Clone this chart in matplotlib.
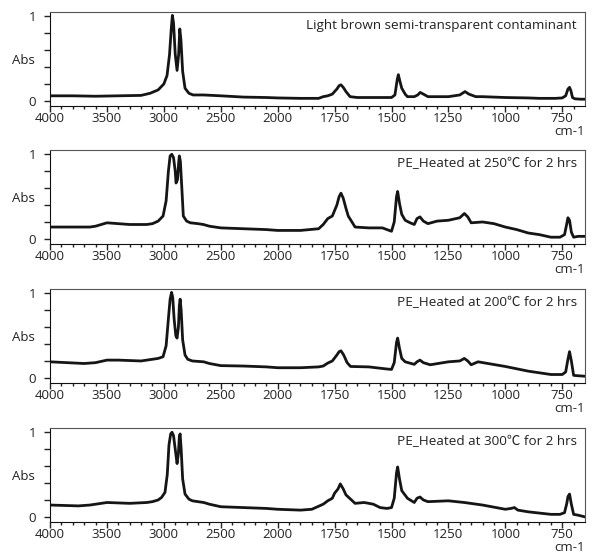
import numpy as np
import matplotlib
matplotlib.use("Agg")
import matplotlib.pyplot as plt

plt.rcParams["font.family"] = ["Open Sans", "Noto Sans CJK KR", "DejaVu Sans"]

# wavenumber (cm-1) / absorbance
wn1 = [4000, 3800, 3600, 3400, 3200, 3121, 3050, 3000, 2972, 2950, 2935, 2925, 2915,
       2900, 2884, 2870, 2860, 2850, 2835, 2814, 2780, 2743, 2650, 2500, 2300, 2100,
       2000, 1900, 1820, 1800, 1780, 1760, 1740, 1730, 1722, 1712, 1700, 1682, 1650, 1550,
       1500, 1485, 1475, 1470, 1462, 1455, 1440, 1430, 1400, 1385, 1374, 1360, 1340,
       1250, 1200, 1177, 1160, 1130, 1100, 1000, 900, 850, 780, 750, 735, 725, 718,
       712, 705, 695, 670, 650]
abs1 = [0.06, 0.06, 0.055, 0.06, 0.065, 0.09, 0.13, 0.20, 0.30, 0.55, 0.85, 1.01, 0.92,
        0.55, 0.36, 0.55, 0.85, 0.72, 0.35, 0.15, 0.09, 0.07, 0.07, 0.06, 0.045, 0.04,
        0.035, 0.03, 0.03, 0.05, 0.06, 0.08, 0.14, 0.18, 0.19, 0.16, 0.11, 0.05, 0.04, 0.04,
        0.04, 0.07, 0.25, 0.31, 0.22, 0.15, 0.08, 0.05, 0.05, 0.07, 0.10, 0.08, 0.05,
        0.05, 0.07, 0.11, 0.08, 0.05, 0.05, 0.04, 0.035, 0.03, 0.03, 0.035, 0.06, 0.14, 0.16,
        0.12, 0.04, 0.025, 0.02, 0.02]

wn2 = [4000, 3800, 3650, 3600, 3500, 3400, 3300, 3150, 3100, 3050, 3007, 2980, 2960,
       2945, 2930, 2915, 2900, 2893, 2880, 2870, 2864, 2855, 2840, 2829, 2800, 2767,
       2700, 2653, 2600, 2500, 2300, 2100, 2000, 1900, 1820, 1800, 1780, 1760, 1740,
       1730, 1722, 1712, 1700, 1690, 1660, 1600, 1540, 1500, 1488, 1478, 1473, 1465, 1455,
       1440, 1418, 1400, 1388, 1375, 1360, 1340, 1300, 1250, 1200, 1180, 1165, 1150,
       1100, 1050, 1000, 950, 900, 850, 800, 760, 740, 730, 725, 718, 710, 700, 680, 650]
abs2 = [0.14, 0.14, 0.14, 0.15, 0.19, 0.18, 0.17, 0.17, 0.18, 0.21, 0.27, 0.45, 0.80,
        0.98, 1.00, 0.96, 0.80, 0.66, 0.70, 0.90, 0.98, 0.92, 0.55, 0.27, 0.21, 0.19,
        0.18, 0.17, 0.15, 0.13, 0.12, 0.11, 0.10, 0.10, 0.12, 0.17, 0.24, 0.27, 0.40,
        0.50, 0.54, 0.48, 0.36, 0.27, 0.14, 0.13, 0.13, 0.09, 0.20, 0.50, 0.56, 0.42, 0.29,
        0.22, 0.19, 0.17, 0.24, 0.26, 0.21, 0.18, 0.21, 0.22, 0.25, 0.30, 0.26, 0.19,
        0.20, 0.18, 0.14, 0.11, 0.07, 0.05, 0.02, 0.02, 0.05, 0.18, 0.25, 0.22, 0.08,
        0.02, 0.03, 0.03]

wn3 = [4000, 3850, 3700, 3600, 3500, 3400, 3200, 3100, 3050, 3007, 2980, 2960, 2945,
       2932, 2922, 2910, 2895, 2884, 2872, 2864, 2857, 2848, 2835, 2814, 2790, 2750,
       2650, 2600, 2500, 2300, 2100, 2000, 1900, 1820, 1800, 1780, 1760, 1740, 1730, 1722,
       1710, 1695, 1680, 1600, 1520, 1500, 1488, 1478, 1473, 1465, 1455, 1440, 1420,
       1400, 1388, 1375, 1360, 1330, 1250, 1200, 1180, 1165, 1150, 1120, 1000, 900,
       800, 750, 735, 725, 718, 710, 700, 680, 650]
abs3 = [0.19, 0.18, 0.17, 0.18, 0.21, 0.21, 0.20, 0.22, 0.23, 0.25, 0.38, 0.70, 0.93,
        1.01, 0.95, 0.70, 0.50, 0.47, 0.60, 0.85, 0.93, 0.80, 0.45, 0.27, 0.22, 0.20,
        0.19, 0.17, 0.145, 0.14, 0.13, 0.12, 0.12, 0.13, 0.14, 0.175, 0.20, 0.27, 0.31, 0.32,
        0.27, 0.18, 0.135, 0.13, 0.105, 0.10, 0.18, 0.42, 0.47, 0.35, 0.23, 0.19, 0.175,
        0.16, 0.19, 0.21, 0.18, 0.155, 0.19, 0.20, 0.23, 0.20, 0.155, 0.19, 0.135, 0.08,
        0.04, 0.04, 0.07, 0.22, 0.31, 0.20, 0.03, 0.025, 0.02]

wn4 = [4000, 3750, 3650, 3500, 3400, 3300, 3150, 3100, 3050, 3020, 2990, 2970, 2955,
       2940, 2928, 2915, 2900, 2884, 2872, 2864, 2857, 2848, 2835, 2814, 2780, 2750,
       2650, 2600, 2500, 2300, 2100, 2000, 1900, 1850, 1800, 1780, 1760, 1750, 1735,
       1725, 1712, 1700, 1660, 1620, 1580, 1550, 1520, 1500, 1488, 1478, 1473, 1465,
       1455, 1430, 1400, 1388, 1375, 1360, 1340, 1250, 1180, 1100, 1000, 975, 960, 945,
       900, 800, 760, 740, 730, 725, 718, 710, 700, 680, 650]
abs4 = [0.14, 0.13, 0.14, 0.17, 0.165, 0.16, 0.17, 0.18, 0.20, 0.23, 0.29, 0.50, 0.85,
        0.98, 1.00, 0.96, 0.80, 0.63, 0.75, 0.95, 0.98, 0.80, 0.45, 0.27, 0.21, 0.19,
        0.17, 0.15, 0.12, 0.11, 0.10, 0.09, 0.08, 0.09, 0.15, 0.19, 0.22, 0.28, 0.33,
        0.39, 0.33, 0.26, 0.16, 0.17, 0.15, 0.11, 0.10, 0.11, 0.22, 0.52, 0.59, 0.45,
        0.31, 0.22, 0.17, 0.22, 0.235, 0.20, 0.18, 0.19, 0.17, 0.14, 0.09, 0.10, 0.11,
        0.08, 0.06, 0.03, 0.03, 0.05, 0.16, 0.24, 0.27, 0.15, 0.03, 0.02, 0.00]

labels = ["Light brown semi-transparent contaminant",
          "PE_Heated at 250℃ for 2 hrs",
          "PE_Heated at 200℃ for 2 hrs",
          "PE_Heated at 300℃ for 2 hrs"]
spectra = [(wn1, abs1), (wn2, abs2), (wn3, abs3), (wn4, abs4)]

major_x = [4000, 3500, 3000, 2500, 2000, 1750, 1500, 1250, 1000, 750]
minor_x = [w for w in range(3900, 2000, -100) if w % 500] + \
          [w for w in range(1950, 650, -50) if w % 250]


# FTIR style axis: scale doubles below 2000 cm-1
def fwd(x):
    x = np.asarray(x, dtype=float)
    return np.where(x >= 2000, x, 2 * x - 2000)


def inv(u):
    u = np.asarray(u, dtype=float)
    return np.where(u >= 2000, u, (u + 2000) / 2)


fig = plt.figure(figsize=(5.92, 5.56), dpi=100)
bottoms = [0.8094, 0.5612, 0.3112, 0.0612]

for (wn, ab), lab, b in zip(spectra, labels, bottoms):
    ax = fig.add_axes([0.0845, b, 0.9037, 0.169])
    ax.set_xscale("function", functions=(fwd, inv))
    ax.plot(wn, ab, color="#151515", lw=2.0, solid_joinstyle="round")
    ax.set_xlim(4000, 650)
    ax.set_ylim(-0.06, 1.05)

    ax.set_xticks(major_x)
    ax.set_xticklabels([str(t) for t in major_x])
    ax.set_xticks(minor_x, minor=True)
    ax.set_yticks([0, 1])
    ax.set_yticklabels(["0", "1"])
    ax.set_yticks([0.2, 0.4, 0.6, 0.8], minor=True)

    ax.tick_params(axis="x", which="major", direction="out", length=4, width=1,
                   labelsize=9.5, pad=0.5, color="#222222", labelcolor="#222222")
    ax.tick_params(axis="x", which="minor", direction="out", length=2.5, width=1,
                   color="#222222")
    ax.tick_params(axis="y", which="major", direction="out", length=4, width=1,
                   labelsize=9.5, pad=6, color="#222222", labelcolor="#222222")
    ax.tick_params(axis="y", which="minor", direction="out", length=4, width=1,
                   color="#222222")

    for side in ("left", "bottom"):
        ax.spines[side].set_color("#111111")
    for side in ("top", "right"):
        ax.spines[side].set_color("#555555")

    ax.text(-0.028, 0.48, "Abs", transform=ax.transAxes, ha="right", va="center",
            fontsize=9.5, color="#222222")
    ax.text(1.0, -0.275, "cm-1", transform=ax.transAxes, ha="right", va="center",
            fontsize=9.5, color="#222222")
    ax.text(0.985, 0.86, lab, transform=ax.transAxes, ha="right", va="center",
            fontsize=9.7, color="#222222")

fig.savefig("out.png", dpi=100)
